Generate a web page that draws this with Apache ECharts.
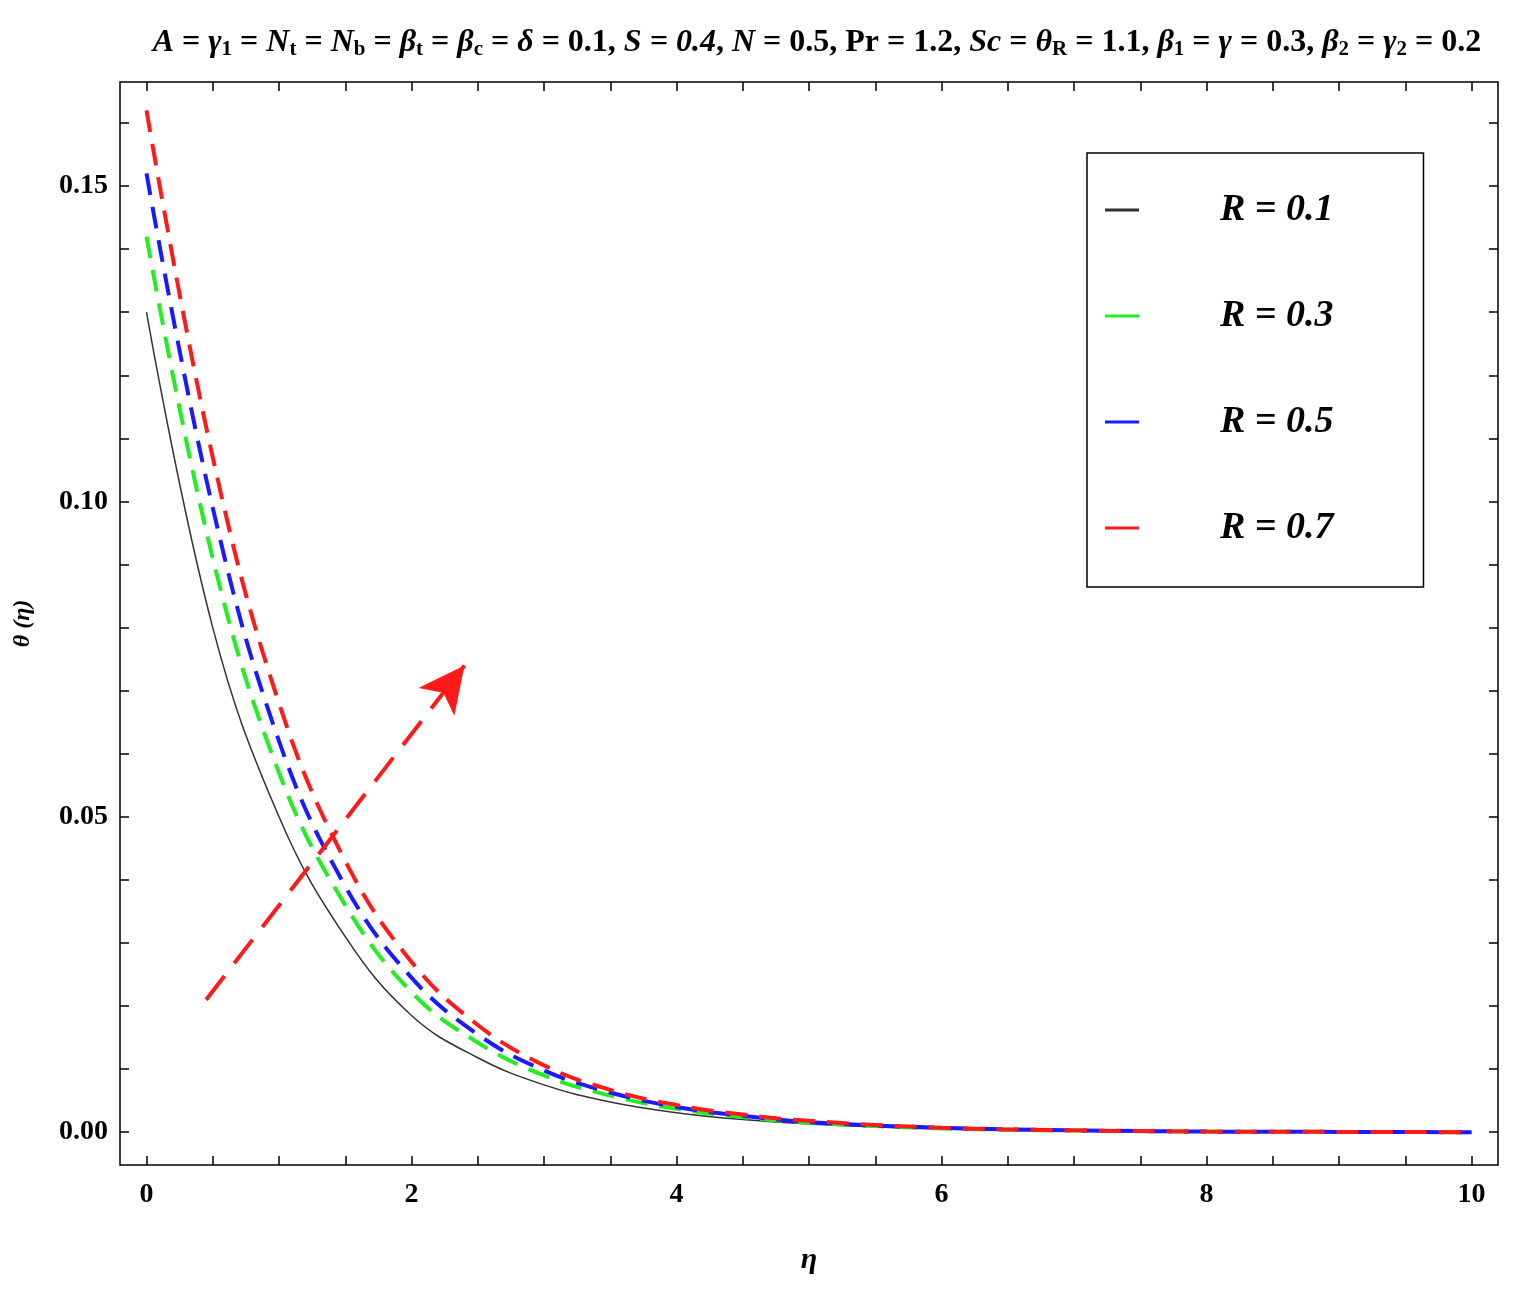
<!DOCTYPE html>
<html><head><meta charset="utf-8">
<script src="https://cdn.jsdelivr.net/npm/echarts@6/dist/echarts.min.js"></script>
<style>html,body{margin:0;padding:0;background:#fff}#c{width:1528px;height:1296px}</style>
</head><body><div id="c"></div>
<script>
const eta = [0,0.5,1,1.5,2,2.5,3,3.5,4,4.5,5,6,7,8,9,10];
const rBlack = [0.130,0.080,0.050,0.031,0.0185,0.0118,0.0075,0.0048,0.0031,0.002,0.0013,0.0005,0.0002,0.0001,0.00005,0];
const rGreen = [0.142,0.091,0.057,0.036,0.0222,0.0142,0.009,0.0058,0.0037,0.0024,0.0015,0.0006,0.00025,0.0001,0.00005,0];
const rBlue  = [0.152,0.099,0.062,0.039,0.0245,0.0155,0.0098,0.0063,0.004,0.0026,0.0016,0.0007,0.0003,0.0001,0.00005,0];
const rRed   = [0.162,0.107,0.068,0.043,0.027,0.017,0.0106,0.0067,0.0043,0.0028,0.0018,0.0007,0.0003,0.0001,0.00005,0];
const names = ['R = 0.1','R = 0.3','R = 0.5','R = 0.7'];
const xTicks = [0,2,4,6,8,10];
const yTicks = [0,0.05,0.10,0.15];
const arrow = [[0.45,0.021],[2.4,0.074]];

const pairs = a => eta.map((x,i)=>[x,a[i]]);
const chart = echarts.init(document.getElementById('c'));
const xMinor = [0,0.5,1,1.5,2,2.5,3,3.5,4,4.5,5,5.5,6,6.5,7,7.5,8,8.5,9,9.5,10];
const yMinor = [0,0.01,0.02,0.03,0.04,0.05,0.06,0.07,0.08,0.09,0.10,0.11,0.12,0.13,0.14,0.15,0.16];
const axisCommon = {axisLine:{show:false, onZero:false}, splitLine:{show:false}};
function mkSeries(name,data,color,solid){
  return {name, type:'line', data:pairs(data), smooth:0.4, symbol:'none',
    lineStyle:{color, width: solid?1.5:4, type: solid?'solid':[22,12]}, itemStyle:{color}};
}
const red = mkSeries(names[3],rRed,'#ff1a1a',false);
red.markLine = {silent:true, symbol:['none','arrow'], symbolSize:[34,46],
  lineStyle:{color:'#ff1a1a', width:4, type:[30,16]}, label:{show:false},
  data:[[{coord:arrow[0]},{coord:arrow[1]}]]};
const tick = v => ({inside:true, length:9, customValues:v, lineStyle:{color:'#000', width:1.5}});
chart.setOption({
  animation:false,
  title:{text:'{i|A} = {i|γ}{s|1} = {i|N}{s|t} = {i|N}{s|b} = {i|β}{s|t} = {i|β}{s|c} = {i|δ} = 0.1, {i|S = 0.4}, {i|N} = 0.5, Pr = 1.2, {i|Sc} = {i|θ}{s|R} = 1.1, {i|β}{s|1} = {i|γ} = 0.3, {i|β}{s|2} = {i|γ}{s|2} = 0.2',
    left:812, top:20, textAlign:'center',
    textStyle:{fontFamily:'Liberation Serif', fontSize:32, fontWeight:'bold', color:'#000',
      rich:{i:{fontFamily:'Liberation Serif',fontSize:32,fontWeight:'bold',fontStyle:'italic'},
            s:{fontFamily:'Liberation Serif',fontSize:21,fontWeight:'bold',verticalAlign:'bottom',padding:[14,0,0,0]}}}},
  grid:{left:120, right:30, top:82, bottom:131, show:true, borderColor:'#000', borderWidth:1.5},
  legend:{orient:'vertical', left:1087, top:153,
    padding:[38,90,40,18], itemGap:68, itemWidth:34, itemHeight:3, icon:'rect',
    borderColor:'#000', borderWidth:1.5, backgroundColor:'#fff',
    data:names,
    textStyle:{fontFamily:'Liberation Serif', fontSize:38, fontWeight:'bold', fontStyle:'italic', color:'#000', padding:[0,0,0,76]}},
  xAxis:[{type:'value', min:-0.2, max:10.2, ...axisCommon, axisTick:tick(xMinor),
      axisLabel:{customValues:xTicks, fontFamily:'Liberation Serif', fontSize:28, fontWeight:'bold', color:'#000', margin:16},
      name:'η', nameLocation:'middle', nameGap:80, nameTextStyle:{fontFamily:'Liberation Serif', fontSize:30, fontStyle:'italic', fontWeight:'bold', color:'#000'}},
    {type:'value', position:'top', min:-0.2, max:10.2, ...axisCommon, axisTick:tick(xMinor), axisLabel:{show:false}}],
  yAxis:[{type:'value', min:-0.0052, max:0.1665, ...axisCommon, axisTick:tick(yMinor),
      axisLabel:{customValues:yTicks, formatter:v=>v.toFixed(2), fontFamily:'Liberation Serif', fontSize:28, fontWeight:'bold', color:'#000', margin:12},
      name:'θ (η)', nameLocation:'middle', nameGap:85, nameRotate:90, nameTextStyle:{fontFamily:'Liberation Serif', fontSize:24, fontStyle:'italic', fontWeight:'bold', color:'#000'}},
    {type:'value', position:'right', min:-0.0052, max:0.1665, ...axisCommon, axisTick:tick(yMinor), axisLabel:{show:false}}],
  series:[
    mkSeries(names[0],rBlack,'#333',true),
    mkSeries(names[1],rGreen,'#22ee22',false),
    mkSeries(names[2],rBlue,'#1a1aff',false),
    red
  ]
});
</script></body></html>
